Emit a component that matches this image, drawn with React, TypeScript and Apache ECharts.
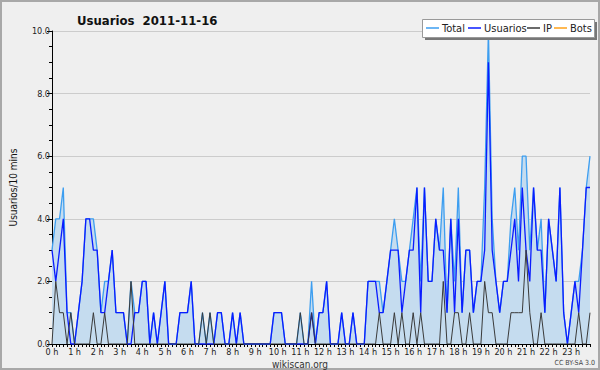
import React, { useEffect, useRef } from "react";
import * as echarts from "echarts";

const TITLE = "Usuarios  2011-11-16";
const Y_NAME = "Usuarios/10 mins";
const FOOTER = "wikiscan.org";
const LICENSE = "CC BY-SA 3.0";
const SERIES_NAMES = ["Total", "Usuarios", "IP", "Bots"];
const SERIES_COLORS = ["#3d9ef0", "#0a1cff", "#3a3a3a", "#ffa21a"];
const AREA_COLOR = "#c5dcef";

// 10-minute slots, 0:00 .. 23:50
const HOURS = 24;
const SLOTS_PER_HOUR = 6;

const total = [
  3, 4, 4, 5, 1, 1, 0, 1, 2, 4,
  4, 4, 3, 1, 2, 2, 3, 1, 1, 1,
  0, 2, 1, 1, 2, 2, 0, 1, 0, 1,
  2, 0, 0, 0, 1, 1, 1, 2, 0, 0,
  1, 0, 1, 0, 1, 1, 0, 0, 1, 0,
  1, 0, 0, 0, 0, 0, 0, 0, 0, 1,
  1, 1, 0, 0, 0, 0, 1, 0, 0, 2,
  0, 1, 1, 2, 0, 0, 0, 1, 0, 0,
  1, 0, 0, 0, 2, 2, 2, 2, 1, 2,
  3, 4, 3, 2, 2, 3, 4, 5, 2, 5,
  2, 2, 4, 3, 5, 1, 4, 2, 5, 1,
  3, 3, 1, 2, 2, 5, 10, 4, 2, 1,
  2, 2, 4, 5, 3, 6, 6, 3, 5, 3,
  4, 1, 4, 3, 2, 5, 1, 0, 1, 2,
  2, 3, 5, 6,
];

const usuarios = [
  3, 2, 3, 4, 1, 0, 0, 1, 2, 4,
  4, 3, 3, 1, 1, 2, 3, 1, 1, 1,
  0, 0, 1, 1, 2, 2, 0, 1, 0, 1,
  2, 0, 0, 0, 1, 1, 1, 2, 0, 0,
  0, 0, 0, 0, 1, 1, 0, 0, 1, 0,
  1, 0, 0, 0, 0, 0, 0, 0, 0, 1,
  1, 1, 0, 0, 0, 0, 0, 0, 0, 1,
  0, 1, 1, 2, 0, 0, 0, 1, 0, 0,
  1, 0, 0, 0, 2, 2, 2, 1, 1, 2,
  3, 3, 3, 1, 2, 3, 3, 5, 1, 5,
  2, 2, 4, 3, 3, 1, 4, 1, 4, 1,
  3, 3, 1, 2, 2, 3, 9, 3, 2, 1,
  2, 2, 3, 4, 2, 5, 3, 2, 5, 3,
  3, 1, 4, 3, 2, 5, 1, 0, 1, 2,
  1, 3, 5, 5,
];

const ip = [
  0, 2, 1, 1, 0, 1, 0, 0, 0, 0,
  0, 1, 0, 0, 1, 0, 0, 0, 0, 0,
  0, 2, 0, 0, 0, 0, 0, 0, 0, 0,
  0, 0, 0, 0, 0, 0, 0, 0, 0, 0,
  1, 0, 1, 0, 0, 0, 0, 0, 0, 0,
  0, 0, 0, 0, 0, 0, 0, 0, 0, 0,
  0, 0, 0, 0, 0, 0, 1, 0, 0, 1,
  0, 0, 0, 0, 0, 0, 0, 0, 0, 0,
  0, 0, 0, 0, 0, 0, 0, 1, 0, 0,
  0, 1, 0, 1, 0, 0, 1, 0, 1, 0,
  0, 0, 0, 0, 2, 0, 0, 1, 1, 0,
  0, 1, 0, 0, 0, 2, 1, 1, 0, 0,
  0, 0, 1, 1, 1, 1, 3, 1, 0, 0,
  1, 0, 0, 0, 0, 0, 0, 0, 0, 0,
  1, 0, 0, 1,
];

const bots: number[] = [];

const Y_MIN = 0;
const Y_MAX = 10;
const Y_STEP = 2;

const FONT = '"DejaVu Sans Condensed", "DejaVu Sans", sans-serif';

export default function App() {
  const ref = useRef<HTMLDivElement>(null);

  useEffect(() => {
    if (!ref.current) return;
    const chart = echarts.init(ref.current, undefined, { renderer: "svg" });
    const slots: string[] = [];
    for (let h = 0; h < HOURS; h++) {
      for (let m = 0; m < SLOTS_PER_HOUR; m++) slots.push(`${h}:${m * 10}`);
    }
    const datasets = [total, usuarios, ip, bots];

    const legendItems: any[] = [];
    const legendX = [426, 468, 527, 554];
    const legendTextX = [442, 484, 543, 570];
    SERIES_NAMES.forEach((n, k) => {
      legendItems.push({
        type: "line",
        shape: { x1: legendX[k], y1: 28, x2: legendX[k] + 13, y2: 28 },
        style: { stroke: SERIES_COLORS[k], lineWidth: 1.5 },
        z: 101,
      });
      legendItems.push({
        type: "text",
        x: legendTextX[k],
        y: 28,
        style: {
          text: n,
          font: `11px ${FONT}`,
          fill: "#222",
          textVerticalAlign: "middle",
          verticalAlign: "middle",
        },
        z: 101,
      });
    });

    chart.setOption({
      animation: false,
      backgroundColor: "#efefef",
      textStyle: { fontFamily: FONT },
      title: {
        text: TITLE,
        left: 72,
        top: 9,
        textStyle: { fontSize: 13, fontWeight: "bold", color: "#111", fontFamily: FONT },
      },
      grid: { left: 46, right: 10, top: 31, bottom: 26, containLabel: false },
      xAxis: {
        type: "category",
        data: slots,
        boundaryGap: false,
        axisLine: { lineStyle: { color: "#000", width: 1 } },
        axisTick: { show: true, interval: 0, length: 3, lineStyle: { color: "#000" } },
        axisLabel: {
          interval: 0,
          formatter: (_v: string, idx: number) =>
            idx % SLOTS_PER_HOUR === 0 ? `${idx / SLOTS_PER_HOUR} h` : "",
          fontSize: 9,
          lineHeight: 9,
          color: "#222",
          margin: 3,
          fontFamily: FONT,
        },
        splitLine: { show: false },
      },
      yAxis: {
        type: "value",
        min: Y_MIN,
        max: Y_MAX,
        interval: Y_STEP,
        name: Y_NAME,
        nameLocation: "middle",
        nameGap: 34,
        nameRotate: 90,
        nameTextStyle: { fontSize: 10, color: "#111", fontFamily: FONT },
        axisLine: { show: true, lineStyle: { color: "#000", width: 1 } },
        axisTick: { show: true, length: 5, lineStyle: { color: "#000" } },
        minorTick: { show: true, splitNumber: 4, length: 3, lineStyle: { color: "#000" } },
        axisLabel: {
          formatter: (v: number) => v.toFixed(1),
          fontSize: 9,
          color: "#222",
          margin: 2,
          fontFamily: FONT,
        },
        splitLine: { show: true, lineStyle: { color: "#cccccc", width: 1 } },
      },
      series: SERIES_NAMES.map((n, k) => ({
        name: n,
        type: "line",
        data: datasets[k],
        symbol: "none",
        z: 2 + k,
        lineStyle: { color: SERIES_COLORS[k], width: k === 2 ? 1 : 1.3 },
        itemStyle: { color: SERIES_COLORS[k] },
        areaStyle: k === 0 ? { color: AREA_COLOR, opacity: 1 } : undefined,
      })),
      graphic: [
        {
          type: "rect",
          shape: { x: 1, y: 1, width: 598, height: 368 },
          style: { fill: "none", stroke: "#a8a8a8", lineWidth: 2 },
          z: 100,
        },
        {
          type: "rect",
          shape: { x: 425, y: 22, width: 172, height: 18 },
          style: { fill: "#777", stroke: "none" },
          z: 100,
        },
        {
          type: "rect",
          shape: { x: 422.5, y: 19.5, width: 172, height: 18 },
          style: { fill: "#fff", stroke: "#999", lineWidth: 1 },
          z: 100,
        },
        ...legendItems,
        {
          type: "text",
          x: 300,
          y: 364,
          style: {
            text: FOOTER,
            font: `10px ${FONT}`,
            lineHeight: 10,
            fill: "#333",
            textAlign: "center",
            align: "center",
            verticalAlign: "middle",
            textVerticalAlign: "middle",
          },
          z: 100,
        },
        {
          type: "text",
          x: 595,
          y: 363,
          style: {
            text: LICENSE,
            font: `7px ${FONT}`,
            fill: "#444",
            textAlign: "right",
            align: "right",
            verticalAlign: "middle",
            textVerticalAlign: "middle",
          },
          z: 100,
        },
      ],
    });
    return () => chart.dispose();
  }, []);

  return (
    <div
      ref={ref}
      style={{ position: "fixed", left: 0, top: 0, width: 600, height: 370 }}
    />
  );
}
